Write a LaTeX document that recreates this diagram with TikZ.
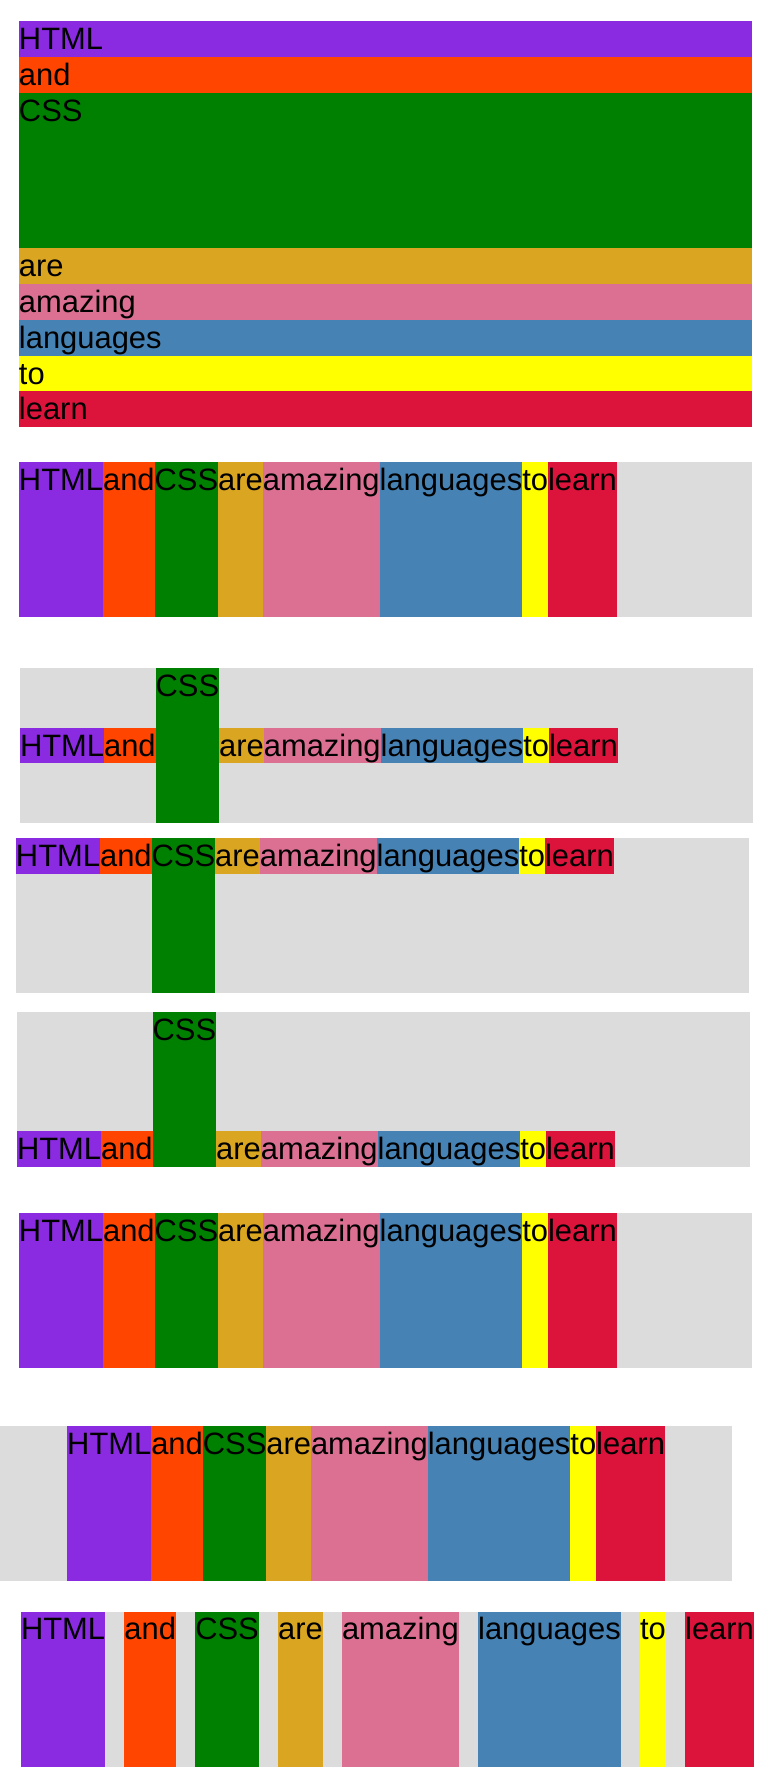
\documentclass[tikz,border=0pt]{standalone}
\usepackage{fontspec}
\newfontfamily\wordfont{Liberation Sans}
\definecolor{wHTML}{HTML}{8A2BE2}
\definecolor{wAND}{HTML}{FF4500}
\definecolor{wCSS}{HTML}{008000}
\definecolor{wARE}{HTML}{DAA520}
\definecolor{wAMAZ}{HTML}{DB7093}
\definecolor{wLANG}{HTML}{4682B4}
\definecolor{wTO}{HTML}{FFFF00}
\definecolor{wLEARN}{HTML}{DC143C}
\definecolor{gbox}{HTML}{DCDCDC}
\begin{document}
\begin{tikzpicture}[x=1pt,y=-1pt,
  word/.style={inner sep=0pt, outer sep=0pt, anchor=north west,
    font=\wordfont\fontsize{30.9pt}{35.8pt}\selectfont,
    text height=28.4pt, text depth=7.4pt},
  tall/.style={text depth=126.6pt},
  wide/.style={text width=733.3pt, align=left},
  box/.style={fill=gbox, inner sep=0pt, outer sep=0pt, anchor=north west,
    minimum width=733.3pt, minimum height=155pt},
  sep/.style={xshift=19.3pt}]
\fill[white] (0,0) rectangle (780,1789);
\useasboundingbox (0,0) rectangle (780,1789);

% 1: column layout
\node[word,wide,fill=wHTML] (a1) at (19,21) {HTML};
\node[word,wide,fill=wAND] (a2) at (a1.south west) {and};
\node[word,wide,fill=wCSS,text depth=127.2pt] (a3) at (a2.south west) {CSS};
\node[word,wide,fill=wARE] (a4) at (a3.south west) {are};
\node[word,wide,fill=wAMAZ] (a5) at (a4.south west) {amazing};
\node[word,wide,fill=wLANG] (a6) at (a5.south west) {languages};
\node[word,wide,fill=wTO] (a7) at (a6.south west) {to};
\node[word,wide,fill=wLEARN] (a8) at (a7.south west) {learn};

% 2: row, stretched
\node[box] (b0) at (19,462) {};
\node[word,tall,fill=wHTML] (b1) at (b0.north west) {HTML};
\node[word,tall,fill=wAND] (b2) at (b1.north east) {and};
\node[word,tall,fill=wCSS] (b3) at (b2.north east) {CSS};
\node[word,tall,fill=wARE] (b4) at (b3.north east) {are};
\node[word,tall,fill=wAMAZ] (b5) at (b4.north east) {amazing};
\node[word,tall,fill=wLANG] (b6) at (b5.north east) {languages};
\node[word,tall,fill=wTO] (b7) at (b6.north east) {to};
\node[word,tall,fill=wLEARN] (b8) at (b7.north east) {learn};

% 3: row, centred
\node[box] (c0) at (20,668) {};
\coordinate (cr) at (20,727.6);
\node[word,fill=wHTML] (c1) at (cr) {HTML};
\node[word,fill=wAND] (c2) at (c1.north east) {and};
\node[word,tall,fill=wCSS] (c3) at (c2.north east |- c0.north) {CSS};
\node[word,fill=wARE] (c4) at (c3.north east |- c1.north) {are};
\node[word,fill=wAMAZ] (c5) at (c4.north east) {amazing};
\node[word,fill=wLANG] (c6) at (c5.north east) {languages};
\node[word,fill=wTO] (c7) at (c6.north east) {to};
\node[word,fill=wLEARN] (c8) at (c7.north east) {learn};

% 4: row, start
\node[box] (d0) at (16,838) {};
\node[word,fill=wHTML] (d1) at (d0.north west) {HTML};
\node[word,fill=wAND] (d2) at (d1.north east) {and};
\node[word,tall,fill=wCSS] (d3) at (d2.north east) {CSS};
\node[word,fill=wARE] (d4) at (d3.north east) {are};
\node[word,fill=wAMAZ] (d5) at (d4.north east) {amazing};
\node[word,fill=wLANG] (d6) at (d5.north east) {languages};
\node[word,fill=wTO] (d7) at (d6.north east) {to};
\node[word,fill=wLEARN] (d8) at (d7.north east) {learn};

% 5: row, end
\node[box] (e0) at (17,1012) {};
\coordinate (er) at (17,1131.2);
\node[word,fill=wHTML] (e1) at (er) {HTML};
\node[word,fill=wAND] (e2) at (e1.north east) {and};
\node[word,tall,fill=wCSS] (e3) at (e2.north east |- e0.north) {CSS};
\node[word,fill=wARE] (e4) at (e3.north east |- e1.north) {are};
\node[word,fill=wAMAZ] (e5) at (e4.north east) {amazing};
\node[word,fill=wLANG] (e6) at (e5.north east) {languages};
\node[word,fill=wTO] (e7) at (e6.north east) {to};
\node[word,fill=wLEARN] (e8) at (e7.north east) {learn};

% 6: row, stretched again
\node[box] (f0) at (19,1213) {};
\node[word,tall,fill=wHTML] (f1) at (f0.north west) {HTML};
\node[word,tall,fill=wAND] (f2) at (f1.north east) {and};
\node[word,tall,fill=wCSS] (f3) at (f2.north east) {CSS};
\node[word,tall,fill=wARE] (f4) at (f3.north east) {are};
\node[word,tall,fill=wAMAZ] (f5) at (f4.north east) {amazing};
\node[word,tall,fill=wLANG] (f6) at (f5.north east) {languages};
\node[word,tall,fill=wTO] (f7) at (f6.north east) {to};
\node[word,tall,fill=wLEARN] (f8) at (f7.north east) {learn};

% 7: row, centred horizontally
\node[box,minimum width=732pt] (g0) at (0,1426) {};
\coordinate (gr) at (67.2,1426);
\node[word,tall,fill=wHTML] (g1) at (gr) {HTML};
\node[word,tall,fill=wAND] (g2) at (g1.north east) {and};
\node[word,tall,fill=wCSS] (g3) at (g2.north east) {CSS};
\node[word,tall,fill=wARE] (g4) at (g3.north east) {are};
\node[word,tall,fill=wAMAZ] (g5) at (g4.north east) {amazing};
\node[word,tall,fill=wLANG] (g6) at (g5.north east) {languages};
\node[word,tall,fill=wTO] (g7) at (g6.north east) {to};
\node[word,tall,fill=wLEARN] (g8) at (g7.north east) {learn};

% 8: row, space between
\node[box] (h0) at (21,1611.5) {};
\node[word,tall,fill=wHTML] (h1) at (h0.north west) {HTML};
\node[word,tall,fill=wAND] (h2) at ([sep]h1.north east) {and};
\node[word,tall,fill=wCSS] (h3) at ([sep]h2.north east) {CSS};
\node[word,tall,fill=wARE] (h4) at ([sep]h3.north east) {are};
\node[word,tall,fill=wAMAZ] (h5) at ([sep]h4.north east) {amazing};
\node[word,tall,fill=wLANG] (h6) at ([sep]h5.north east) {languages};
\node[word,tall,fill=wTO] (h7) at ([sep]h6.north east) {to};
\node[word,tall,fill=wLEARN] (h8) at ([sep]h7.north east) {learn};
\end{tikzpicture}
\end{document}
